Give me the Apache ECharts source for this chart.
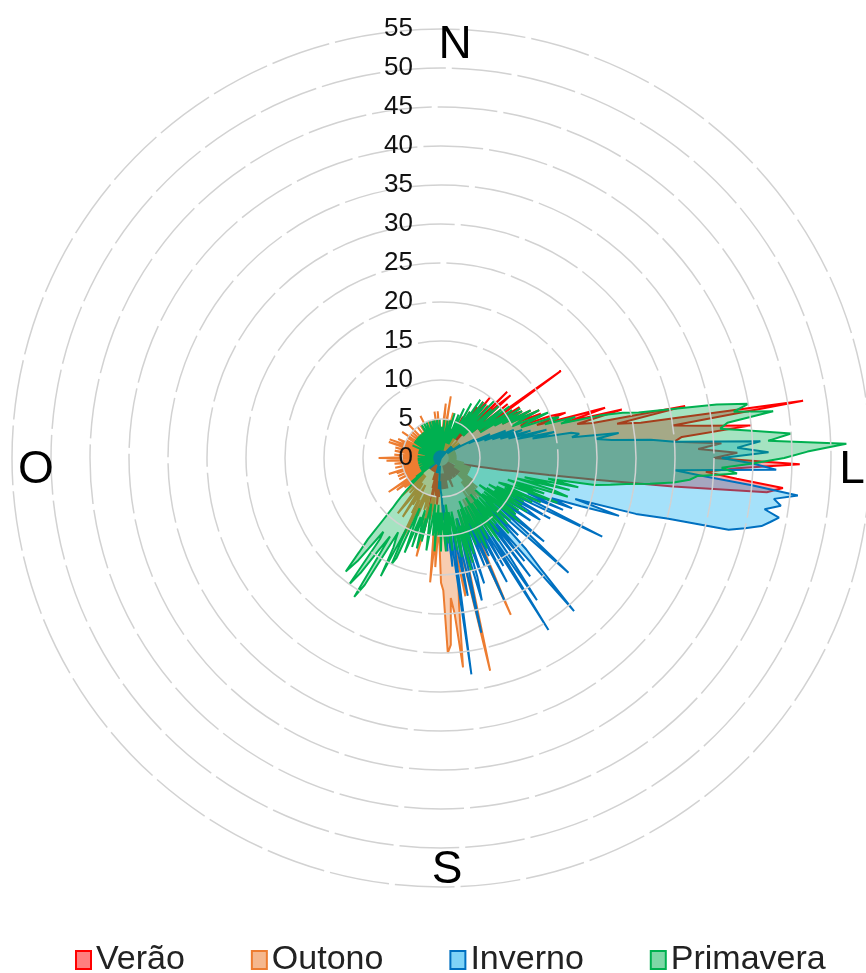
<!DOCTYPE html>
<html>
<head>
<meta charset="utf-8">
<script src="https://cdn.jsdelivr.net/npm/echarts@6/dist/echarts.min.js"></script>
<style>
html, body { margin: 0; padding: 0; background: #fff; }
#rose { width: 866px; height: 973px; }
</style>
</head>
<body>
<div id="rose"></div>
<script>
var rosechart = echarts.init(document.getElementById('rose'));

// wind direction of every value, degrees clockwise from north (1 degree bins)
var directions = [];
for (var d = 0; d < 360; d++) directions.push(d);

var seasons = ['Verão', 'Outono', 'Inverno', 'Primavera'];

// frequencies per direction, one row = 20 degrees (0-19, 20-39, ...)
var verao = [
  1,2,1,3,1,2,0,1,2,1,4,1,2,1,3,1,2,4,1,2,
  2,1,4,2,5,1,3,2,6,3,4,2,7,3,5,8,3,9,4,10,
  4,3,9,5,4,12,5,10,12,6,5,11,6,8,19,7,6,12,8,11,
  12,9,13,10,14,11,14,12,11,15,17,13,16,22,17,24,18,20,32,23,
  26,47,30,34,40,31,30,36,33,38,35,46,38,34,38,44,42,30,20,14,
  10,8,6,5,4,4,3,4,3,3,2,3,2,3,2,3,2,3,2,3,
  2,3,1,2,3,1,2,1,2,3,1,2,3,1,2,1,3,2,1,2,
  1,2,3,1,2,1,3,2,1,2,2,1,3,2,1,2,3,2,4,3,
  2,1,3,2,1,2,3,2,4,3,3,2,4,3,2,4,3,2,4,3,
  3,4,2,5,3,6,4,3,5,4,3,2,4,10,5,3,4,2,3,2,
  3,2,1,2,1,1,2,1,2,1,2,1,2,1,2,1,1,2,1,1,
  2,1,1,2,1,1,2,1,1,2,1,2,1,1,2,1,1,1,2,1,
  1,2,1,1,2,1,1,2,1,1,2,1,1,2,1,1,1,2,1,1,
  2,1,1,2,1,1,2,1,2,1,1,2,1,1,2,1,1,2,1,2,
  1,1,2,1,2,1,1,2,1,1,2,1,2,1,1,2,1,1,2,1,
  2,1,1,2,1,2,1,1,2,1,1,2,1,2,1,1,2,1,2,1,
  1,2,1,2,1,1,2,1,2,1,2,2,1,2,1,2,1,2,1,2,
  2,1,2,1,2,2,1,2,1,2,1,2,1,2,2,1,2,1,2,1
];
var outono = [
  4,2,1,3,5,7,2,1,4,8,2,1,5,2,1,6,1,3,1,2,
  1,3,1,2,1,2,4,1,2,1,3,1,2,1,1,3,1,2,1,1,
  1,2,1,1,3,1,1,2,1,1,1,3,1,1,2,1,1,3,1,1,
  1,1,2,1,1,1,2,1,1,1,1,2,1,1,1,2,1,1,1,1,
  1,1,1,2,1,1,1,1,2,1,1,1,1,1,2,1,1,1,2,1,
  1,2,3,1,3,2,3,2,4,2,1,3,4,2,2,4,2,4,3,2,
  3,4,2,4,3,5,3,5,3,6,3,4,6,3,5,7,4,6,7,4,
  4,7,5,8,6,10,5,12,7,6,9,12,6,10,7,13,22,9,7,9,
  8,13,7,11,14,9,16,28,11,15,18,12,16,19,27,20,18,24,25,17,
  16,11,9,14,10,16,8,7,6,5,8,6,5,9,13,7,6,5,7,5,
  6,5,8,6,5,10,12,6,8,5,4,7,5,9,6,5,4,7,9,5,
  5,3,6,4,3,5,7,3,5,3,5,6,3,5,7,4,3,8,5,3,
  3,5,2,6,3,5,2,6,3,5,2,6,3,7,4,2,5,3,6,2,
  3,2,5,6,2,3,5,7,2,4,8,5,2,3,6,4,2,3,5,6,
  3,2,5,6,2,3,5,7,3,2,7,4,2,5,6,3,2,5,2,4,
  2,5,1,3,6,1,4,1,5,2,1,3,5,1,4,1,6,2,1,4,
  1,3,1,5,2,1,4,1,5,1,3,1,4,1,6,1,4,1,3,1,
  1,5,1,3,1,4,5,2,1,3,5,2,6,3,1,4,6,2,1,3
];
var inverno = [
  1,0,1,0,1,1,0,1,0,1,1,0,1,1,0,1,0,1,1,0,
  1,1,0,1,1,0,1,1,0,1,1,1,0,1,1,0,1,1,1,0,
  1,1,2,1,1,2,1,1,2,1,2,1,2,2,1,2,3,2,2,3,
  3,5,4,4,7,5,6,9,6,10,7,11,8,12,9,14,10,15,12,17,
  18,17,23,20,22,27,30,41,38,42,36,40,43,30,34,40,46,43,44,42,
  44,43,42,40,38,30,26,18,24,19,15,18,12,17,11,13,23,11,10,16,
  9,13,15,10,8,14,10,9,12,17,9,15,22,10,8,14,9,16,19,26,
  10,17,9,19,8,15,22,11,26,9,16,8,18,10,14,8,20,9,15,8,
  11,17,9,16,19,8,14,23,9,18,12,10,28,9,14,7,12,6,8,5,
  5,4,3,3,4,2,2,1,2,1,1,1,2,1,1,1,1,2,1,1,
  1,1,0,1,1,1,0,1,1,1,1,0,1,1,1,0,1,1,1,0,
  1,0,1,1,1,0,1,1,2,1,0,1,1,1,0,1,1,2,1,0,
  1,1,0,1,1,2,1,0,1,1,1,0,1,1,1,2,1,0,1,1,
  0,1,1,1,0,1,1,2,1,0,1,1,1,0,1,1,1,2,1,0,
  1,1,2,1,0,1,1,1,0,1,1,1,2,1,0,1,1,1,0,1,
  1,0,1,1,1,2,1,0,1,1,1,0,1,1,2,1,0,1,1,1,
  0,1,1,1,2,1,0,1,1,1,0,1,1,2,1,0,1,1,1,0,
  1,1,2,1,0,1,1,1,0,1,1,1,2,1,0,1,1,1,0,1
];
var primavera = [
  2,1,4,2,1,5,2,3,1,2,5,3,1,3,5,2,3,6,2,4,
  3,2,6,3,2,7,3,5,2,8,4,3,7,4,9,3,6,9,4,8,
  9,4,6,10,5,4,9,5,10,6,5,10,6,11,6,8,11,6,12,8,
  12,9,13,10,14,11,10,15,12,11,15,16,14,18,16,21,24,26,30,36,
  40,38,43,37,36,40,45,42,52,47,44,40,36,38,33,32,30,27,24,22,
  20,14,18,11,17,10,15,17,9,14,10,16,9,8,14,9,13,8,12,7,
  12,8,13,7,12,6,11,12,7,13,8,7,12,6,11,12,7,9,13,7,
  11,6,12,7,10,13,7,12,6,10,12,7,10,13,7,12,9,6,12,7,
  10,13,7,14,9,15,8,11,13,7,12,8,7,12,6,11,7,12,9,7,
  12,7,10,6,12,7,10,6,8,12,9,7,6,11,8,12,9,7,12,8,
  10,13,9,7,14,15,10,17,13,12,11,19,21,12,14,18,20,13,12,17,
  19,16,14,11,9,8,7,6,5,4,3,5,2,4,2,3,1,2,3,1,
  2,1,3,1,2,3,1,2,1,2,1,3,1,2,1,2,1,3,1,2,
  2,1,2,3,1,2,1,2,3,1,2,2,1,2,3,1,2,2,1,2,
  2,2,1,3,2,1,2,3,1,2,2,1,3,2,4,1,2,1,2,2,
  2,4,1,2,4,1,3,2,4,1,2,4,1,3,4,1,3,2,4,1,
  3,1,4,2,3,4,1,3,2,4,5,2,1,3,5,2,1,4,5,2,
  3,1,4,5,2,1,3,5,2,1,5,3,1,4,5,2,1,3,5,2
];

var lineColors = ['#FF0000', '#ED7D31', '#0070C0', '#00B050'];
var fillColors = ['rgba(255,0,0,0.5)', 'rgba(237,125,49,0.55)', 'rgba(0,170,240,0.5)', 'rgba(0,176,80,0.5)'];

// [radius, angle] pairs, closing the loop at 360
function toPolar(values) {
  var pts = values.map(function (v, i) { return [v, directions[i]]; });
  pts.push([values[0], 360]);
  return pts;
}

var allData = [verao, outono, inverno, primavera];
var series = allData.map(function (vals, k) {
  return {
    name: seasons[k],
    type: 'line',
    coordinateSystem: 'polar',
    data: toPolar(vals),
    symbol: 'none',
    smooth: false,
    lineStyle: { color: lineColors[k], width: 2 },
    itemStyle: { color: lineColors[k] },
    areaStyle: { color: fillColors[k] },
    z: 2 + k
  };
});

var compass = [
  { t: 'N', x: 455, y: 45 },
  { t: 'L', x: 852, y: 470 },
  { t: 'S', x: 447, y: 870 },
  { t: 'O', x: 36, y: 470 }
];

var option = {
  animation: false,
  polar: { center: [441, 458], radius: 429 },
  angleAxis: {
    type: 'value', min: 0, max: 360, startAngle: 90, clockwise: true,
    axisLine: { show: false }, axisTick: { show: false },
    axisLabel: { show: false }, splitLine: { show: false }
  },
  radiusAxis: {
    type: 'value', min: 0, max: 55, interval: 5,
    axisLine: { show: false }, axisTick: { show: false },
    axisLabel: { fontSize: 26, color: '#111', margin: 28, fontFamily: 'Liberation Sans' },
    splitLine: { show: true, lineStyle: { color: '#d2d2d2', width: 1.5, type: [60, 6] } },
    z: 10
  },
  legend: {
    left: 70, top: 938,
    icon: 'rect', itemWidth: 15, itemHeight: 18, itemGap: 66,
    lineStyle: { width: 0, opacity: 0 },
    textStyle: { fontSize: 34, color: '#222', fontFamily: 'Liberation Sans' },
    data: seasons.map(function (s, k) {
      return { name: s, itemStyle: { color: fillColors[k], borderColor: lineColors[k], borderWidth: 2 } };
    })
  },
  graphic: compass.map(function (c) {
    return {
      type: 'text', x: c.x, y: c.y, z: 20,
      style: { text: c.t, fontSize: 46, fill: '#000', fontFamily: 'Liberation Sans', align: 'center', verticalAlign: 'middle' }
    };
  }),
  series: series
};

rosechart.setOption(option);
</script>
</body>
</html>
